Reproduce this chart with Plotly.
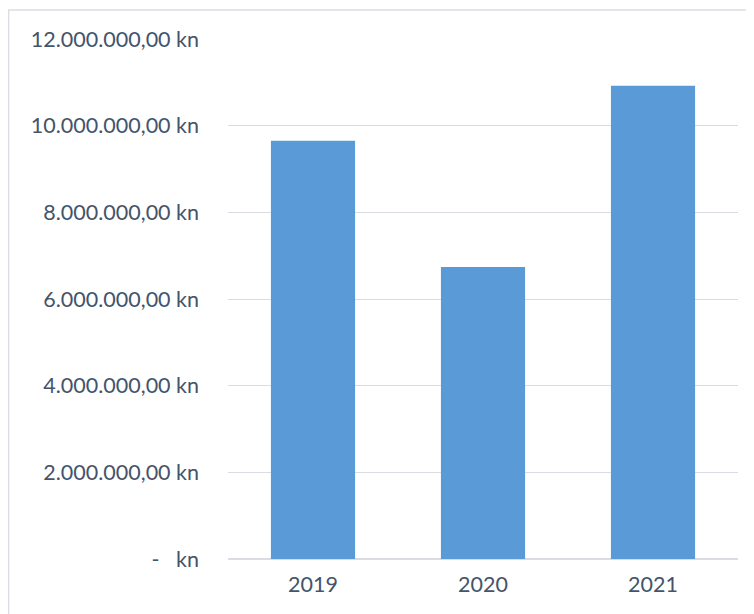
import plotly.graph_objects as go

years = ["2019", "2020", "2021"]
amounts = [9650000, 6740000, 10920000]
tick_values = [0, 2000000, 4000000, 6000000, 8000000, 10000000, 12000000]
tick_labels = ["-   kn", "2.000.000,00 kn", "4.000.000,00 kn", "6.000.000,00 kn",
               "8.000.000,00 kn", "10.000.000,00 kn", "12.000.000,00 kn"]

text_color = "#44546a"
font_family = "Lato, Liberation Sans, sans-serif"
font_size = 21.5

fig = go.Figure(
    go.Bar(
        x=years,
        y=amounts,
        marker=dict(color="#5a9ad6", line=dict(width=0)),
        width=0.495,
        hoverinfo="skip",
    )
)

fig.update_layout(
    width=746,
    height=606,
    margin=dict(l=220, r=16, t=31, b=55),
    paper_bgcolor="white",
    plot_bgcolor="white",
    showlegend=False,
    font=dict(family=font_family, size=font_size, color=text_color),
    xaxis=dict(
        showgrid=False,
        showline=False,
        zeroline=False,
        ticks="",
        tickfont=dict(size=font_size, color=text_color),
        ticklabelstandoff=10,
    ),
    yaxis=dict(
        range=[0, 12000000],
        tickvals=tick_values,
        ticktext=tick_labels,
        showgrid=True,
        gridcolor="#d9dde3",
        gridwidth=1.3,
        zeroline=True,
        zerolinecolor="#d9dde3",
        zerolinewidth=2,
        showline=False,
        ticks="",
        tickfont=dict(size=font_size, color=text_color),
        ticklabelstandoff=28,
    ),
    shapes=[
        dict(
            type="rect",
            xref="paper",
            yref="paper",
            x0=(0.7 - 220) / 510,
            x1=(770 - 220) / 510,
            y0=(551 - 630) / 520,
            y1=(551 - 2) / 520,
            line=dict(color="#d9dde3", width=1.3),
            fillcolor="rgba(0,0,0,0)",
            layer="below",
        )
    ],
)

fig.write_html("out.html")
